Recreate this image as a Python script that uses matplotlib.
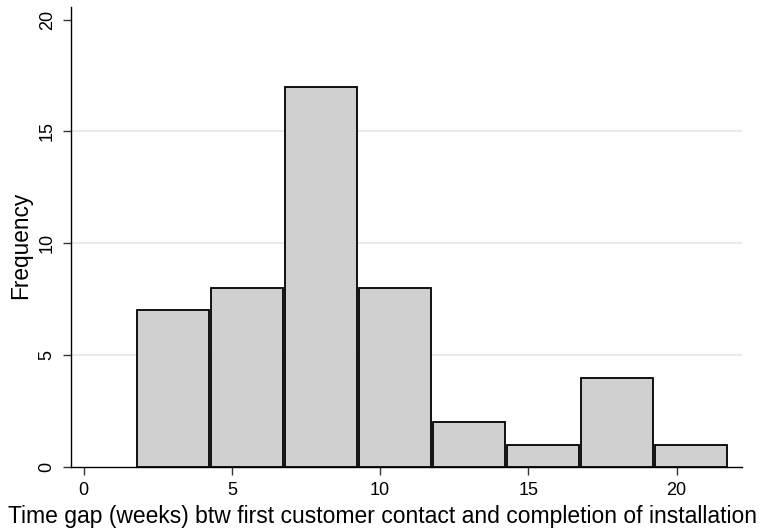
import matplotlib

matplotlib.use("Agg")
import matplotlib.pyplot as plt
import numpy as np

# Histogram data
bin_edges = [1.75, 4.25, 6.75, 9.25, 11.75, 14.25, 16.75, 19.25, 21.75]
counts = [7, 8, 17, 8, 2, 1, 4, 1]
x_ticks = [0, 5, 10, 15, 20]
y_ticks = [0, 5, 10, 15, 20]
grid_levels = [5, 10, 15]

plt.rcParams["font.family"] = ["Liberation Sans", "DejaVu Sans"]

fig = plt.figure(figsize=(7.64, 5.31), dpi=100)
ax = fig.add_axes([0.0929, 0.1205, 0.8781, 0.8663])

lefts = np.array(bin_edges[:-1])
widths = np.diff(bin_edges)
ax.bar(lefts + widths / 2, counts, width=widths * 0.972, align="center",
       color="#d0d0d0", edgecolor="black", linewidth=1.3, zorder=3)

for g in grid_levels:
    ax.axhline(g, color="#e6e6e6", linewidth=1.2, zorder=1)

ax.set_xlim(-0.43, 22.2)
ax.set_ylim(0, 20.56)
ax.set_xticks(x_ticks)
ax.set_yticks(y_ticks)
ax.set_yticklabels([str(v) for v in y_ticks], rotation=90, va="center")
ax.tick_params(axis="both", direction="out", length=6, width=1, labelsize=13,
               pad=5, color="#333333")

for side in ["top", "right"]:
    ax.spines[side].set_visible(False)
for side in ["left", "bottom"]:
    ax.spines[side].set_linewidth(1)

# axis titles placed relative to the figure (Stata-style, centred on the page)
fig.text(0.5, 8 / 531, "Time gap (weeks) btw first customer contact and completion of installation",
         fontsize=16.5, ha="center", va="baseline")
fig.text(21 / 764, 1 - 245 / 531, "Frequency", fontsize=16.3, rotation=90,
         ha="center", va="center")

plt.savefig("out.png", dpi=100)
plt.close()
